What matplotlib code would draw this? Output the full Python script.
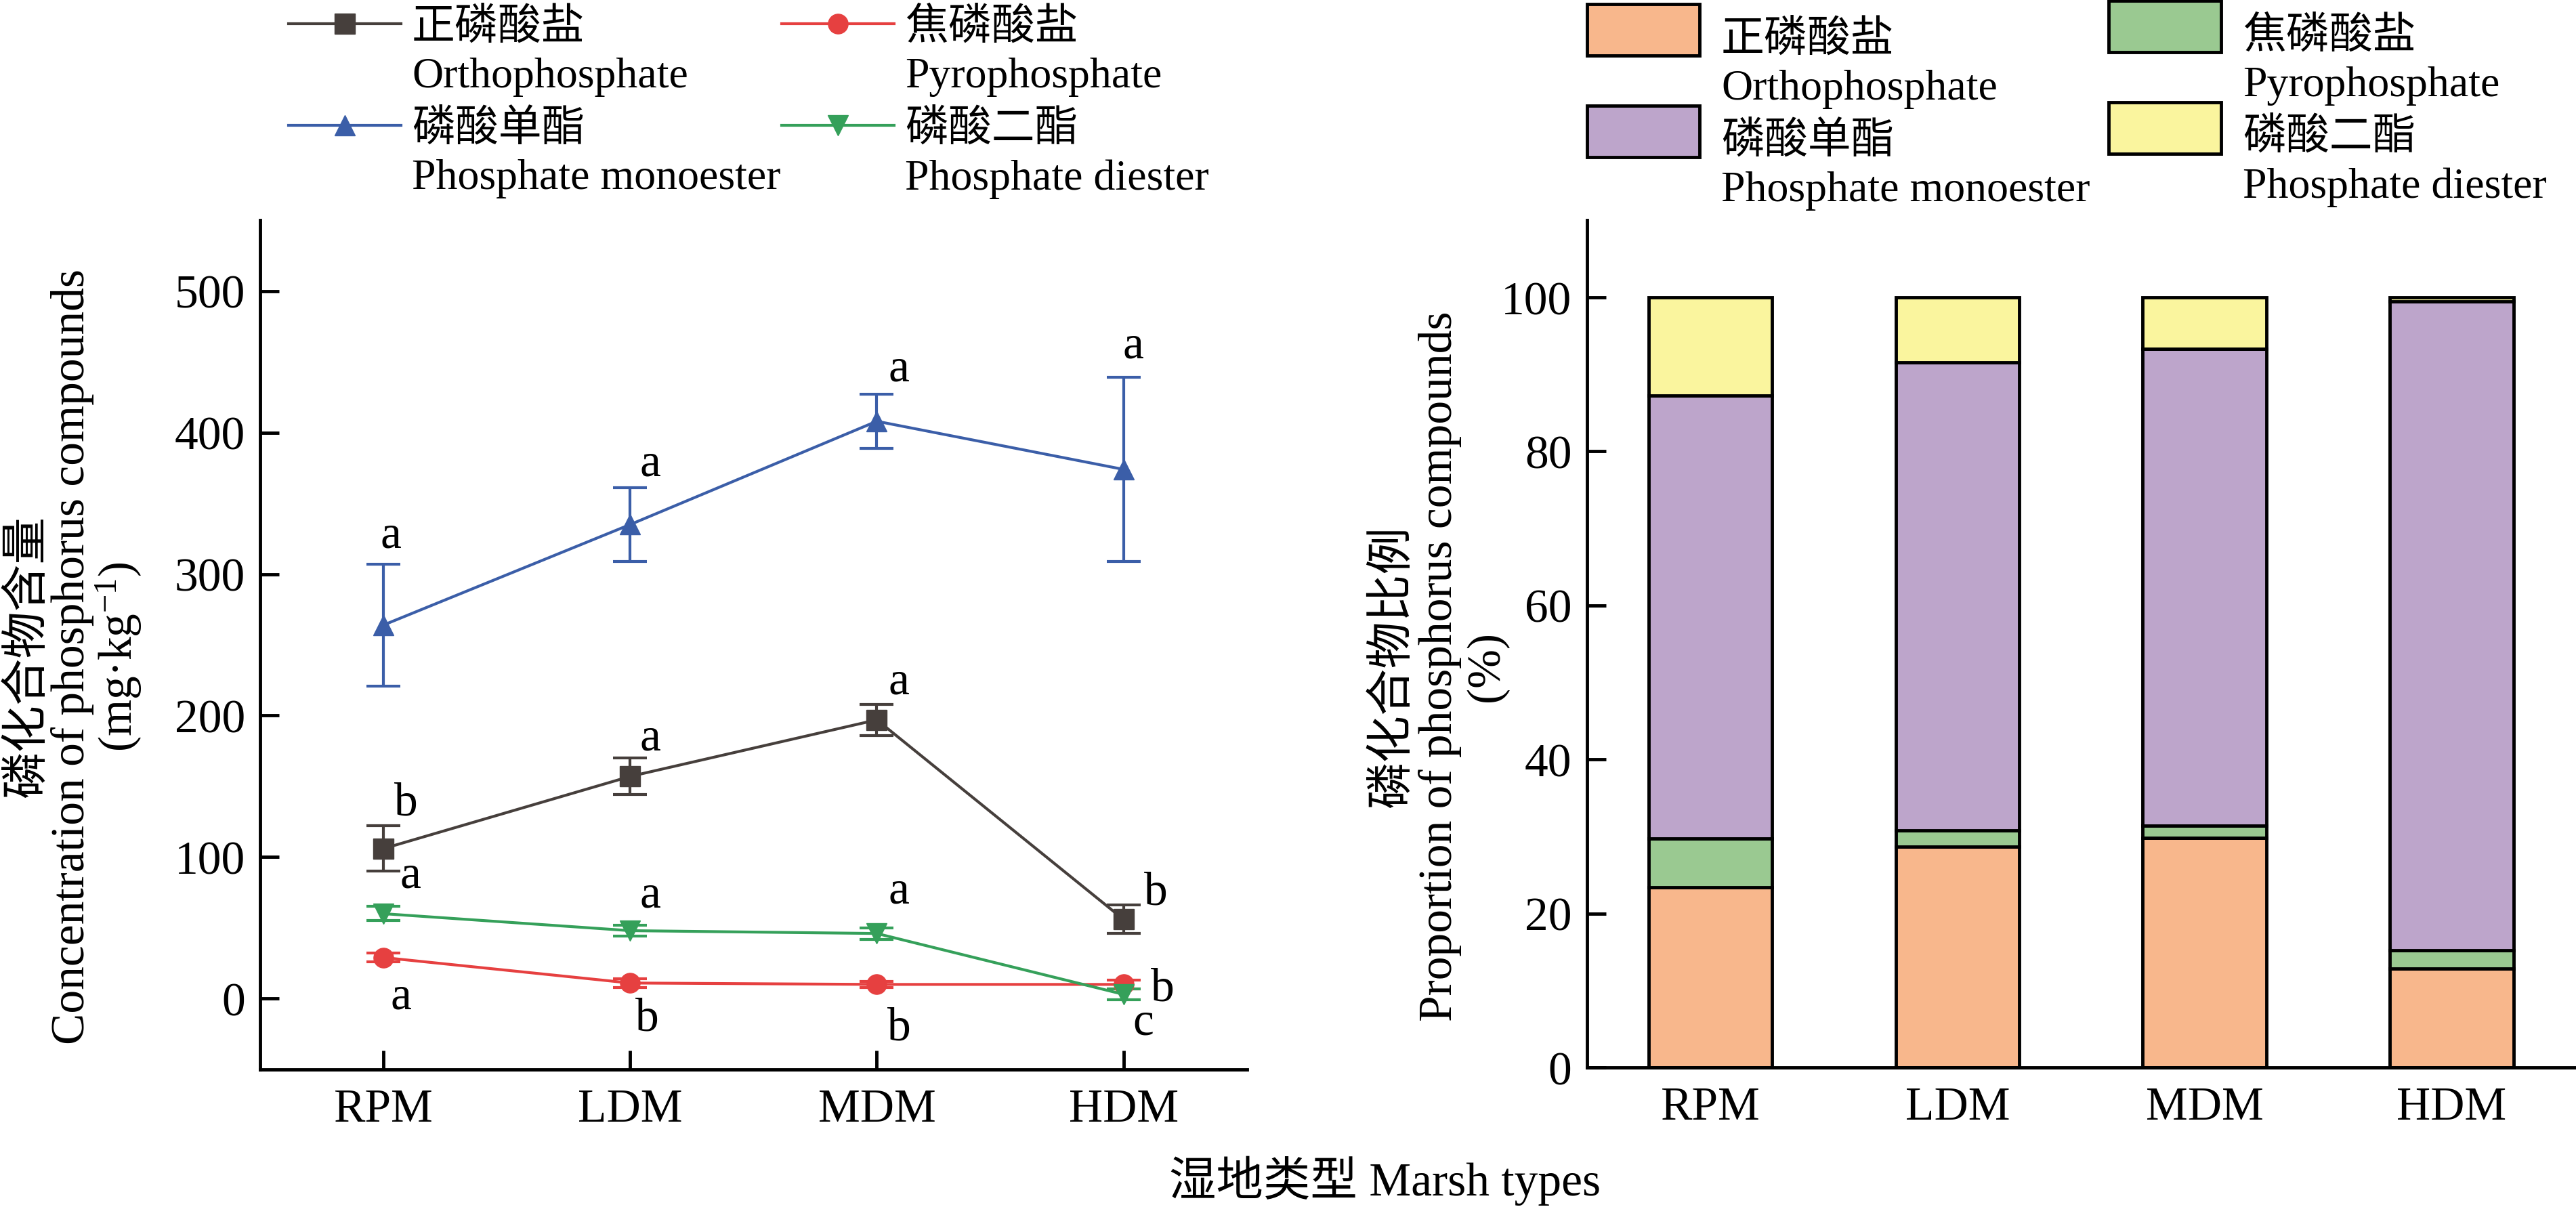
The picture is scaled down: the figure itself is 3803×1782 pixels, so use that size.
import numpy as np
import matplotlib
matplotlib.use('Agg')
import matplotlib.pyplot as plt
import matplotlib.transforms as mtransforms
from matplotlib.legend_handler import HandlerLine2D, HandlerPatch
from matplotlib.lines import Line2D
from matplotlib.patches import Rectangle

plt.rcParams['font.family'] = ['Liberation Serif', 'Noto Sans CJK SC']
plt.rcParams['mathtext.fontset'] = 'custom'
plt.rcParams['mathtext.rm'] = 'Liberation Serif'
plt.rcParams['mathtext.it'] = 'Liberation Serif:italic'

# 数据
sites = ['RPM', 'LDM', 'MDM', 'HDM']
names_cn = ['正磷酸盐', '焦磷酸盐', '磷酸单酯', '磷酸二酯']
names_en = ['Orthophosphate', 'Pyrophosphate', 'Phosphate monoester', 'Phosphate diester']

# 含量 (mg/kg)
ortho = [106, 157, 197, 56]
ortho_err = [16, 13, 11, 10]
pyro = [29, 11, 10, 10]
pyro_err = [3, 3, 2, 3]
mono = [264, 335, 408, 374]
mono_err = [43, 26, 19, 65]
diester = [60, 48, 46, 3]
diester_err = [5, 4, 4, 4]

ortho_sig = ['b', 'a', 'a', 'b']
pyro_sig = ['a', 'b', 'b', 'b']
mono_sig = ['a', 'a', 'a', 'a']
diester_sig = ['a', 'a', 'a', 'c']

# 比例 (%)
ortho_pct = [23.4, 28.7, 29.8, 12.8]
pyro_pct = [6.3, 2.1, 1.6, 2.4]
mono_pct = [57.5, 60.7, 61.9, 84.3]
diester_pct = [12.8, 8.5, 6.7, 0.5]

line_colors = ['#463f3c', '#e64040', '#3b5ea8', '#35a05a']
bar_colors = ['#f8b78c', '#9ac991', '#bda5cb', '#faf59e']


class RaisedLine(HandlerLine2D):
    # 把图例符号抬到第一行(中文)的高度
    def create_artists(self, legend, orig_handle, xdescent, ydescent, width, height, fontsize, trans):
        trans = mtransforms.Affine2D().translate(0, 0.65 * fontsize) + trans
        return super().create_artists(legend, orig_handle, xdescent, ydescent, width, height, fontsize, trans)


class RaisedPatch(HandlerPatch):
    def create_artists(self, legend, orig_handle, xdescent, ydescent, width, height, fontsize, trans):
        trans = mtransforms.Affine2D().translate(0, 0.8 * fontsize) + trans
        return super().create_artists(legend, orig_handle, xdescent, ydescent, width, height, fontsize, trans)


fig = plt.figure(figsize=(38.03, 17.83), dpi=100)
ax1 = fig.add_axes([0.101, 0.114, 0.383, 0.703])
ax2 = fig.add_axes([0.616, 0.1155, 0.3837, 0.7016])

x = np.arange(len(sites))

# 左图: 折线 + 误差棒
series = [
    (ortho, ortho_err, ortho_sig, 's', [0.09, 0.08, 0.09, 0.13], [16, 14, 16, 19]),
    (pyro, pyro_err, pyro_sig, 'o', [0.07, 0.07, 0.09, 0.16], [-28, -25, -31, -3]),
    (mono, mono_err, mono_sig, '^', [0.03, 0.08, 0.09, 0.04], [20, 17, 18, 22]),
    (diester, diester_err, diester_sig, 'v', [0.11, 0.08, 0.09, 0.08], [22, 21, 26, -20]),
]
handles = []
for i, (vals, errs, sig, mk, dx, dy) in enumerate(series):
    ax1.errorbar(x, vals, yerr=errs, fmt='none', ecolor=line_colors[i],
                 elinewidth=3, capsize=18, capthick=3, zorder=2)
    h, = ax1.plot(x, vals, color=line_colors[i], lw=3, marker=mk,
                  markersize=21, zorder=3)
    handles.append(h)
    for j in range(len(x)):
        top = vals[j] + errs[j] if dy[j] > 0 and not (i == 0 and j == 3) else vals[j]
        ax1.text(x[j] + dx[j], top + dy[j], sig[j], fontsize=50,
                 ha='center', va='center')

ax1.set_xlim(-0.5, 3.5)
ax1.set_ylim(-50, 550)
ax1.set_yticks([0, 100, 200, 300, 400, 500])
ax1.set_xticks(x)
ax1.set_xticklabels(sites)
ax1.set_ylabel('磷化合物含量\nConcentration of phosphorus compounds\n(mg·kg$^{-1}$)',
               fontsize=50, linespacing=1.0)
ax1.yaxis.set_label_coords(-0.118, 0.487)

# 右图: 堆积柱状图
bottom = np.zeros(len(sites))
bar_handles = []
for i, pct in enumerate([ortho_pct, pyro_pct, mono_pct, diester_pct]):
    bars = ax2.bar(x, pct, width=0.5, bottom=bottom, color=bar_colors[i],
                   edgecolor='black', linewidth=3.5, zorder=2)
    bar_handles.append(bars[0])
    bottom += np.array(pct)

ax2.set_xlim(-0.5, 3.5)
ax2.set_ylim(0, 110)
ax2.set_yticks([0, 20, 40, 60, 80, 100])
ax2.set_xticks(x)
ax2.set_xticklabels(sites)
ax2.set_ylabel('磷化合物比例\nProportion of phosphorus compounds\n(%)',
               fontsize=50, linespacing=1.1)
ax2.yaxis.set_label_coords(-0.0795, 0.474)

for ax in (ax1, ax2):
    for s in ('top', 'right'):
        ax.spines[s].set_visible(False)
    for s in ('left', 'bottom'):
        ax.spines[s].set_linewidth(3.5)
    ax.tick_params(axis='both', direction='in', length=20, width=3.5,
                   labelsize=50)
    ax.tick_params(axis='y', pad=16)
    ax.tick_params(axis='x', pad=20)
ax2.tick_params(axis='x', length=0)

labels = [c + '\n' + e for c, e in zip(names_cn, names_en)]

# 图例
leg_kw = dict(loc='upper left', frameon=False, fontsize=46, borderpad=0,
              borderaxespad=0, labelspacing=0.3)
legs = []
legs.append(fig.legend([handles[0], handles[2]], [labels[0], labels[2]],
                       bbox_to_anchor=(0.112, 0.993), handlelength=2.6,
                       handletextpad=0.25,
                       handler_map={Line2D: RaisedLine()}, **leg_kw))
legs.append(fig.legend([handles[1], handles[3]], [labels[1], labels[3]],
                       bbox_to_anchor=(0.3034, 0.993), handlelength=2.6,
                       handletextpad=0.25,
                       handler_map={Line2D: RaisedLine()}, **leg_kw))
legs.append(fig.legend([bar_handles[0], bar_handles[2]], [labels[0], labels[2]],
                       bbox_to_anchor=(0.6161, 0.983), handlelength=2.6,
                       handleheight=1.45, handletextpad=0.5,
                       handler_map={Rectangle: RaisedPatch()}, **leg_kw))
legs.append(fig.legend([bar_handles[1], bar_handles[3]], [labels[1], labels[3]],
                       bbox_to_anchor=(0.8186, 0.986), handlelength=2.6,
                       handleheight=1.45, handletextpad=0.5,
                       handler_map={Rectangle: RaisedPatch()}, **leg_kw))
for leg in legs:
    for t in leg.get_texts():
        t.set_linespacing(1.3)

fig.text(0.5377, 0.0224, '湿地类型 Marsh types', fontsize=50,
         ha='center', va='center')

fig.savefig('out.png', dpi=100)
